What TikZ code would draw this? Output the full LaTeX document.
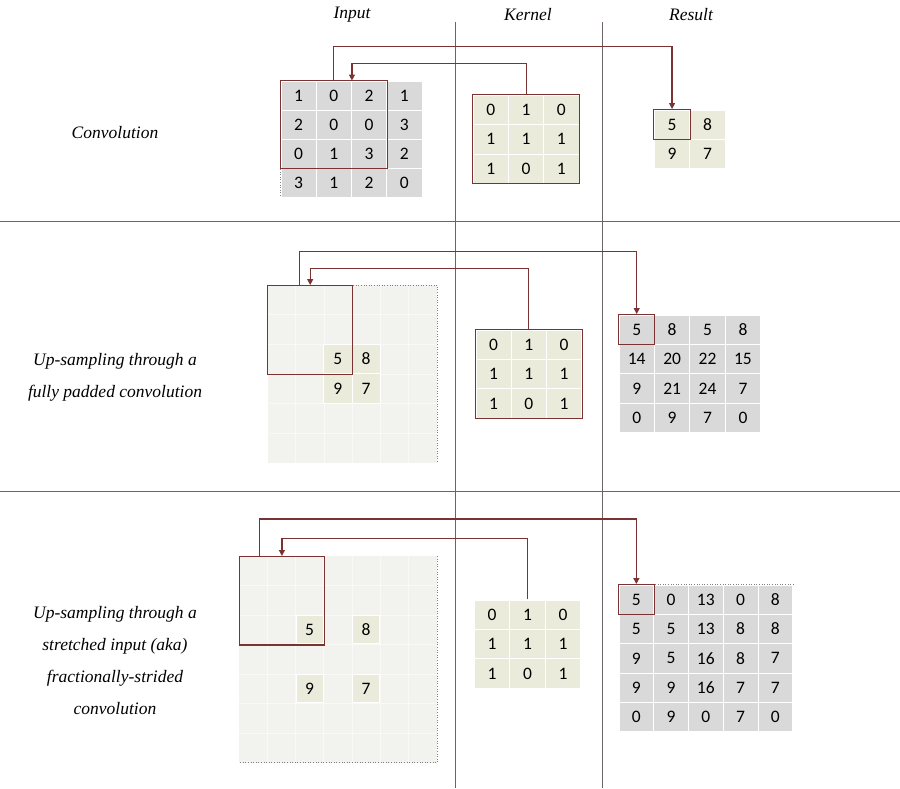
\documentclass[tikz,border=0pt]{standalone}
\usepackage{fontspec}
\setmainfont{Liberation Serif}
\newfontfamily\numfont{Carlito}
\usetikzlibrary{arrows.meta,fit,calc}
\definecolor{cellgray}{HTML}{D9D9D9}
\definecolor{cellbeige}{HTML}{EBEBDC}
\definecolor{padgray}{HTML}{F2F2EF}
\definecolor{linkred}{HTML}{7B3232}
\definecolor{divider}{HTML}{6E6464}
\tikzset{
  cell/.style={draw=white, line width=0.9pt, inner sep=0pt, font=\numfont\fontsize{17.5}{17.5}\selectfont},
  winbox/.style={draw=linkred, line width=1.1pt, inner sep=0pt, fill=none},
  padbox/.style={fill=padgray, draw=none, inner sep=0pt},
  padline/.style={draw=white!55!padgray, line width=0.5pt},
  dotedge/.style={draw=gray, line width=0.6pt, dotted},
  link/.style={draw=linkred, line width=1.2pt},
  linkarrow/.style={link, -{Triangle[length=6pt,width=6pt]}},
  divline/.style={draw=divider, line width=0.9pt},
  rowlabel/.style={font=\itshape\fontsize{17.5}{32}\selectfont, align=center},
  header/.style={font=\itshape\fontsize{17.5}{17.5}\selectfont},
}
\newcommand\cellgrid[7]{%
  \foreach \rowvals [count=\i] in {#7} {
    \foreach \v [count=\j] in \rowvals {
      \node[cell, fill=#6, minimum width=#4pt, minimum height=#5pt] (#1-\i-\j)
        at ({#2+(\j-0.5)*#4},{#3+(\i-0.5)*#5}) {\v};
    }
  }%
}
\begin{document}
\begin{tikzpicture}[x=1pt,y=-1pt]
\useasboundingbox (0,0) rectangle (900,788);

% dividers
\coordinate (vt1) at (455,22); \coordinate (vb1) at (455,788);
\coordinate (vt2) at (602,22); \coordinate (vb2) at (602,788);
\coordinate (h1l) at (0,221); \coordinate (h1r) at (900,221);
\coordinate (h2l) at (0,491); \coordinate (h2r) at (900,491);
\draw[divline] (vt1) -- (vb1);
\draw[divline] (vt2) -- (vb2);
\draw[divline] (h1l) -- (h1r);
\draw[divline] (h2l) -- (h2r);

% headers
\node[header] (hin) at (352,15) {Input};
\node[header] (hker) at (528,15) {Kernel};
\node[header] (hres) at (691,15) {Result};

% row labels
\node[rowlabel] (lab1) at (115,133) {Convolution};
\node[rowlabel] (lab2) at (115,377) {Up-sampling through a\\fully padded convolution};
\node[rowlabel] (lab3) at (115,661) {Up-sampling through a\\stretched input (aka)\\fractionally-strided\\convolution};

% ===== Row 1 =====
\cellgrid{A}{281}{81}{35.25}{29}{cellgray}{{1,0,2,1},{2,0,0,3},{0,1,3,2},{3,1,2,0}}
\draw[dotedge] (A-1-1.north west) -- (A-4-1.south west);
\node[winbox, fit=(A-1-1)(A-3-3)] (winA) {};
\cellgrid{KA}{473.3}{95.3}{35.23}{29.33}{cellbeige}{{0,1,0},{1,1,1},{1,0,1}}
\node[winbox, fit=(KA-1-1)(KA-3-3)] (kboxA) {};
\cellgrid{RA}{654.3}{110}{35.5}{29}{cellbeige}{{5,8},{9,7}}
\node[winbox, fit=(RA-1-1)] (rboxA) {};

\coordinate (bendA1) at (winA.north |- 0,46.3);
\coordinate (bendA2) at (kboxA.north |- 0,63.3);
\draw[linkarrow] (winA.north) -- (bendA1) -| (rboxA.north);
\draw[linkarrow] (kboxA.north) -- (bendA2) -| (A-1-2.north east);

% ===== Row 2 =====
\node[padbox, anchor=north west, minimum width=169.4pt, minimum height=177.7pt] (padB) at (267.3,285) {};
\foreach \k in {1,...,5} {
  \draw[padline] ($(padB.north west)+(\k*28.23,0)$) -- ($(padB.south west)+(\k*28.23,0)$);
  \draw[padline] ($(padB.north west)+(0,\k*29.62)$) -- ($(padB.north east)+(0,\k*29.62)$);
}
\draw[dotedge] (padB.north west) -- (padB.north east) -- (padB.south east);
\cellgrid{B}{323.76}{344.24}{28.23}{29.62}{cellbeige}{{5,8},{9,7}}
\node[winbox, anchor=north west, minimum width=84.7pt, minimum height=88.9pt] (winB) at (267.3,285) {};
\cellgrid{KB}{476}{330}{35.23}{29.43}{cellbeige}{{0,1,0},{1,1,1},{1,0,1}}
\node[winbox, fit=(KB-1-1)(KB-3-3)] (kboxB) {};
\cellgrid{RB}{619}{315}{35.42}{29.42}{cellgray}{{5,8,5,8},{14,20,22,15},{9,21,24,7},{0,9,7,0}}
\node[winbox, fit=(RB-1-1)] (rboxB) {};

\coordinate (bendB1) at (299.3,251.3);
\coordinate (bendB2) at (kboxB.north |- 0,268.7);
\draw[linkarrow] (winB.north -| bendB1) -- (bendB1) -| (rboxB.north);
\draw[linkarrow] (kboxB.north) -- (bendB2) -| (winB.north);

% ===== Row 3 =====
\node[padbox, anchor=north west, minimum width=197.7pt, minimum height=206.3pt] (padC) at (239,556) {};
\foreach \k in {1,...,6} {
  \draw[padline] ($(padC.north west)+(\k*28.24,0)$) -- ($(padC.south west)+(\k*28.24,0)$);
  \draw[padline] ($(padC.north west)+(0,\k*29.47)$) -- ($(padC.north east)+(0,\k*29.47)$);
}
\draw[dotedge] (padC.north east) -- (padC.south east) -- (padC.south west);
\node[cell, fill=cellbeige, minimum width=27pt, minimum height=28pt] (C-1-1) at (309.6,629.7) {5};
\node[cell, fill=cellbeige, minimum width=27pt, minimum height=28pt] (C-1-2) at (366.1,629.7) {8};
\node[cell, fill=cellbeige, minimum width=27pt, minimum height=28pt] (C-2-1) at (309.6,688.6) {9};
\node[cell, fill=cellbeige, minimum width=27pt, minimum height=28pt] (C-2-2) at (366.1,688.6) {7};
\node[winbox, anchor=north west, minimum width=84.7pt, minimum height=88.4pt] (winC) at (239,556) {};
\cellgrid{KC}{474.3}{600}{35.47}{29.43}{cellbeige}{{0,1,0},{1,1,1},{1,0,1}}
\node[inner sep=0pt, fit=(KC-1-1)(KC-3-3)] (kboxC) {};
\cellgrid{RC}{619}{585}{34.74}{29.34}{cellgray}{{5,0,13,0,8},{5,5,13,8,8},{9,5,16,8,7},{9,9,16,7,7},{0,9,0,7,0}}
\draw[dotedge] (RC-1-1.north west) -- (RC-1-5.north east);
\node[winbox, fit=(RC-1-1)] (rboxC) {};

\coordinate (bendC1) at (259.7,519);
\coordinate (bendC2) at (kboxC.north |- 0,538.7);
\draw[linkarrow] (winC.north -| bendC1) -- (bendC1) -| (rboxC.north);
\draw[linkarrow] (kboxC.north) -- (bendC2) -| (winC.north);
\end{tikzpicture}
\end{document}
